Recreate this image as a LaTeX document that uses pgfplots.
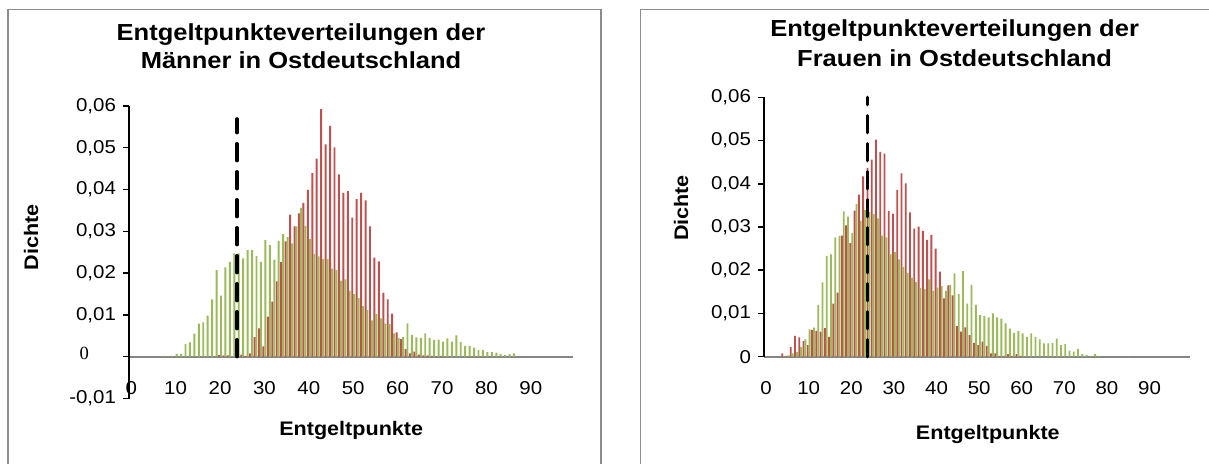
\documentclass[border=0pt]{standalone}
\usepackage{fontspec}
\setmainfont{Liberation Sans}[FakeStretch=1.1]
\newfontfamily\serifzero{Liberation Serif}
\usepackage{pgfplots}
\pgfplotsset{compat=1.18}
\usepackage{pgfplotstable}

\definecolor{xred}{HTML}{C0504D}
\definecolor{xgreen}{HTML}{9BBB59}
\definecolor{framegray}{HTML}{8C8C8C}
\definecolor{axisgray}{HTML}{868686}

\pgfplotstableread{
k v
20 0.0004
21 0.0003
22 0.0003
24 0.0005
25 0.0005
26 0.0002
27 0.0008
28 0.0047
29 0.0068
30 0.0025
31 0.0096
32 0.0132
33 0.0180
34 0.0226
35 0.0276
36 0.0340
37 0.0312
38 0.0343
39 0.0368
40 0.0399
41 0.0439
42 0.0474
43 0.0592
44 0.0508
45 0.0552
46 0.0501
47 0.0436
48 0.0392
49 0.0396
50 0.0333
51 0.0377
52 0.0392
53 0.0374
54 0.0312
55 0.0237
56 0.0228
57 0.0153
58 0.0137
59 0.0103
60 0.0058
61 0.0042
62 0.0018
63 0.0008
64 0.0012
65 0.0005
66 0.0003
67 0.0003
68 0.0002
70 0.0002
}\mred

\pgfplotstableread{
k v
7 0.0002
8 0.0001
9 0.0002
10 0.0007
11 0.0007
12 0.0030
13 0.0034
14 0.0055
15 0.0079
16 0.0082
17 0.0098
18 0.0137
19 0.0207
20 0.0146
21 0.0214
22 0.0227
23 0.0247
24 0.0247
25 0.0235
26 0.0255
27 0.0255
28 0.0241
29 0.0227
30 0.0279
31 0.0267
32 0.0232
33 0.0277
34 0.0293
35 0.0286
36 0.0271
37 0.0312
38 0.0356
39 0.0313
40 0.0281
41 0.0246
42 0.0240
43 0.0234
44 0.0234
45 0.0211
46 0.0207
47 0.0182
48 0.0185
49 0.0158
50 0.0150
51 0.0140
52 0.0121
53 0.0112
54 0.0087
55 0.0102
56 0.0092
57 0.0079
58 0.0078
59 0.0056
60 0.0045
61 0.0047
62 0.0080
63 0.0052
64 0.0046
65 0.0045
66 0.0056
67 0.0045
68 0.0040
69 0.0041
70 0.0036
71 0.0044
72 0.0036
73 0.0051
74 0.0035
75 0.0026
76 0.0026
77 0.0022
78 0.0016
79 0.0016
80 0.0011
81 0.0011
82 0.0010
83 0.0006
84 0.0004
85 0.0006
86 0.0008
}\mgreen

\pgfplotstableread{
k v
4 0.0008
5 0.0002
6 0.0022
7 0.0048
8 0.0045
9 0.0036
10 0.0027
11 0.0062
12 0.0060
13 0.0058
14 0.0066
15 0.0046
16 0.0123
17 0.0148
18 0.0280
19 0.0304
20 0.0263
21 0.0338
22 0.0375
23 0.0417
24 0.0437
25 0.0456
26 0.0502
27 0.0474
28 0.0470
29 0.0337
30 0.0331
31 0.0386
32 0.0424
33 0.0401
34 0.0334
35 0.0296
36 0.0301
37 0.0291
38 0.0270
39 0.0282
40 0.0250
41 0.0197
42 0.0135
43 0.0165
44 0.0142
45 0.0071
46 0.0058
47 0.0068
48 0.0050
49 0.0032
50 0.0027
51 0.0035
52 0.0025
53 0.0008
54 0.0008
55 0.0002
56 0.0002
57 0.0006
58 0.0002
59 0.0006
60 0.0002
}\fred

\pgfplotstableread{
k v
4 0.0001
5 0.0003
6 0.0008
7 0.0011
8 0.0023
9 0.0040
10 0.0063
11 0.0067
12 0.0120
13 0.0172
14 0.0233
15 0.0237
16 0.0276
17 0.0279
18 0.0336
19 0.0324
20 0.0286
21 0.0353
22 0.0315
23 0.0339
24 0.0335
25 0.0330
26 0.0320
27 0.0280
28 0.0276
29 0.0237
30 0.0242
31 0.0225
32 0.0208
33 0.0194
34 0.0183
35 0.0173
36 0.0159
37 0.0157
38 0.0179
39 0.0152
40 0.0160
41 0.0163
42 0.0152
43 0.0166
44 0.0193
45 0.0145
46 0.0198
47 0.0123
48 0.0166
49 0.0120
50 0.0096
51 0.0094
52 0.0091
53 0.0100
54 0.0091
55 0.0088
56 0.0077
57 0.0065
58 0.0055
59 0.0059
60 0.0054
61 0.0046
62 0.0054
63 0.0046
64 0.0040
65 0.0031
66 0.0031
67 0.0032
68 0.0042
69 0.0027
70 0.0029
71 0.0014
72 0.0012
73 0.0018
74 0.0006
75 0.0004
76 0.0002
77 0.0006
78 0.0002
85 0.0001
}\fgreen

\pgfplotsset{
  histo/.style={
    scale only axis,
    axis y line=left,
    axis x line=middle,
    x axis line style={-, axisgray, line width=1pt},
    y axis line style={-, black, line width=0.75pt},
    xmin=-0.5, xmax=99.5,
    xtick={0,10,20,30,40,50,60,70,80,90},
    xticklabels={0,10,20,30,40,50,60,70,80,90},
    xtick style={draw=none},
    tick align=outside,
    major tick length=3pt,
    ytick style={black, line width=0.75pt},
    scaled y ticks=false,
    tick label style={font=\fontsize{9.3}{11}\selectfont},
    xticklabel style={yshift=-6pt},
    hide obscured x ticks=false,
    hide obscured y ticks=false,
    clip=false,
  },
  redbar/.style={ybar, bar width=0.44, bar shift=-0.22, fill=xred, draw=none},
  greenbar/.style={ybar, bar width=0.44, bar shift=0.22, fill=xgreen, draw=none},
  dashline/.style={black, mark=none, line width=1.65pt, line cap=round, dash pattern=on 8.5pt off 5.5pt},
}

\begin{document}
\begin{tikzpicture}[x=1pt,y=1pt]
\useasboundingbox (0,0) rectangle (604.5,231.5);
\fill[white] (0,0) rectangle (604.5,231.5);
% frames
\draw[framegray, line width=0.75pt] (3.9,-2) -- (3.9,226.75) -- (300.5,226.75) -- (300.5,-2);
\draw[framegray, line width=0.75pt] (320.35,-2) -- (320.35,226.75) -- (606,226.75);

% left axis
\begin{axis}[histo,
  at={(64.5pt,32.25pt)}, anchor=south west,
  width=222pt, height=146.3pt,
  ymin=-0.01, ymax=0.06,
  ytick={-0.01,0,0.01,0.02,0.03,0.04,0.05,0.06},
  yticklabels={{-0,01},{\raisebox{3pt}{\serifzero 0}\hspace*{13.5pt}},{0,01},{0,02},{0,03},{0,04},{0,05},{0,06}},
]
\addplot[redbar] table[x=k,y=v] {\mred};
\addplot[greenbar] table[x=k,y=v] {\mgreen};
\addplot[dashline] coordinates {(23.8,0) (23.8,0.0569)};
\end{axis}

% right axis
\begin{axis}[histo,
  at={(382pt,53.15pt)}, anchor=south west,
  width=213pt, height=129.7pt,
  ymin=0, ymax=0.06,
  ytick={0,0.01,0.02,0.03,0.04,0.05,0.06},
  yticklabels={{0},{0,01},{0,02},{0,03},{0,04},{0,05},{0,06}},
]
\addplot[redbar] table[x=k,y=v] {\fred};
\addplot[greenbar] table[x=k,y=v] {\fgreen};
\addplot[dashline] coordinates {(23.8,0) (23.8,0.06)};
\end{axis}

% titles and labels
\node[anchor=base, font=\fontsize{11.6}{14}\selectfont\bfseries] at (150.5,211.5) {Entgeltpunkteverteilungen der};
\node[anchor=base, font=\fontsize{11.6}{14}\selectfont\bfseries] at (150.5,197.35) {Männer in Ostdeutschland};
\node[anchor=base, font=\fontsize{11.6}{14}\selectfont\bfseries] at (477.3,213.15) {Entgeltpunkteverteilungen der};
\node[anchor=base, font=\fontsize{11.6}{14}\selectfont\bfseries] at (477.3,198.15) {Frauen in Ostdeutschland};
\node[rotate=90, font=\fontsize{9.8}{12}\selectfont\bfseries] at (15.5,112.75) {Dichte};
\node[rotate=90, font=\fontsize{9.8}{12}\selectfont\bfseries] at (340.5,127.5) {Dichte};
\node[anchor=base, font=\fontsize{9.8}{12}\selectfont\bfseries] at (175.6,14) {Entgeltpunkte};
\node[anchor=base, font=\fontsize{9.8}{12}\selectfont\bfseries] at (493.9,11.85) {Entgeltpunkte};
\end{tikzpicture}
\end{document}
